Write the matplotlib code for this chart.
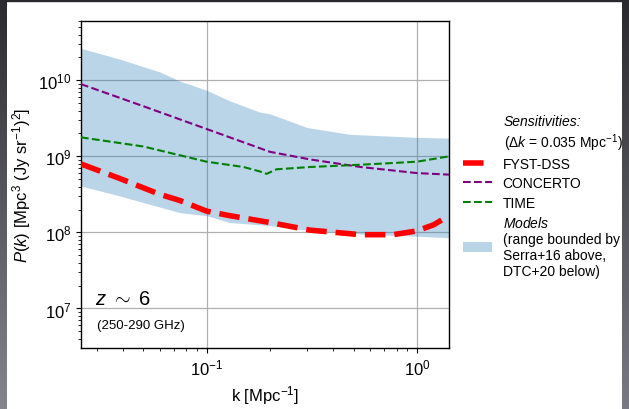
import numpy as np
import matplotlib
matplotlib.use("Agg")
import matplotlib.pyplot as plt
from matplotlib.lines import Line2D
from matplotlib.patches import Patch, Rectangle

plt.rcParams['font.family'] = ['Liberation Sans', 'DejaVu Sans']
plt.rcParams['mathtext.fontset'] = 'custom'
plt.rcParams['mathtext.rm'] = 'Liberation Sans'
plt.rcParams['mathtext.it'] = 'Liberation Sans:italic'
plt.rcParams['mathtext.bf'] = 'Liberation Sans:bold'

# ---- data (log10 of P(k)) ----
k_fyst = [0.0253, 0.0386, 0.06, 0.0746, 0.1, 0.129, 0.2, 0.31, 0.54, 0.77, 1.0, 1.2, 1.42]
logP_fyst = [8.90, 8.71, 8.50, 8.42, 8.28, 8.22, 8.13, 8.03, 7.97, 7.97, 8.02, 8.10, 8.22]

k_concerto = [0.0253, 0.05, 0.1, 0.2, 0.31, 0.54, 1.0, 1.42]
logP_concerto = [9.95, 9.66, 9.36, 9.06, 8.96, 8.86, 8.78, 8.76]

k_time = [0.0253, 0.05, 0.1, 0.15, 0.18, 0.193, 0.215, 0.31, 0.54, 1.0, 1.42]
logP_time = [9.25, 9.13, 8.93, 8.86, 8.80, 8.77, 8.83, 8.86, 8.89, 8.93, 9.00]

k_band_hi = [0.0253, 0.0386, 0.06, 0.0746, 0.1, 0.129, 0.18, 0.2, 0.3, 0.48, 1.0, 1.42]
logP_band_hi = [10.42, 10.28, 10.11, 9.99, 9.87, 9.73, 9.58, 9.56, 9.38, 9.29, 9.25, 9.24]

k_band_lo = [0.0253, 0.0386, 0.0746, 0.1, 0.129, 0.2, 0.3, 0.537, 1.0, 1.42]
logP_band_lo = [8.61, 8.48, 8.26, 8.22, 8.13, 8.09, 8.03, 7.98, 7.95, 7.93]

legend_labels = ['FYST-DSS', 'CONCERTO', 'TIME',
                 '$\\it{Models}$\n(range bounded by\nSerra+16 above,\nDTC+20 below)']

W, H = 629, 410
fig = plt.figure(figsize=(W/100, H/100), dpi=100)
fig.patch.set_facecolor('white')

# dark screenshot frame
def strip(x0, y0, w, h, top_col, bot_col):
    a = fig.add_axes([x0/W, y0/H, w/W, h/H], zorder=-10)
    grad = np.linspace(0, 1, 256)[:, None]
    c0 = np.array(matplotlib.colors.to_rgb(top_col))
    c1 = np.array(matplotlib.colors.to_rgb(bot_col))
    img = c0[None, None, :] * (1 - grad[:, :, None]) + c1[None, None, :] * grad[:, :, None]
    a.imshow(img, aspect='auto', extent=[0, 1, 0, 1])
    a.set_axis_off()

strip(0, 0, 7, H, '#2a2a2e', '#85858f')
strip(W - 7, 0, 7, H, '#2a2a2e', '#7a7a84')
fig.patches.append(Rectangle((0, (H - 2)/H), 1, 2/H, transform=fig.transFigure,
                             color='#2a2a2e', zorder=-5))

ax = fig.add_axes([81/W, 1 - 349/H, (449 - 81)/W, (349 - 22)/H])

kb = np.geomspace(0.0253, 1.42, 400)
hi = 10 ** np.interp(np.log10(kb), np.log10(k_band_hi), logP_band_hi)
lo = 10 ** np.interp(np.log10(kb), np.log10(k_band_lo), logP_band_lo)
ax.fill_between(kb, lo, hi, color='C0', alpha=0.3, lw=0, zorder=1)

ax.plot(k_fyst, 10 ** np.array(logP_fyst), color='red', ls='--', lw=4, zorder=3)
ax.plot(k_concerto, 10 ** np.array(logP_concerto), color='purple', ls='--', lw=1.5, zorder=3)
ax.plot(k_time, 10 ** np.array(logP_time), color='green', ls='--', lw=1.5, zorder=3)

ax.set_xscale('log')
ax.set_yscale('log')
ax.set_xlim(0.0253, 1.42)
ax.set_ylim(10 ** 6.48, 10 ** 10.78)
ax.grid(True, which='major', color='#b0b0b0', lw=0.9)
ax.set_axisbelow(True)
ax.tick_params(labelsize=12)
for s in ax.spines.values():
    s.set_linewidth(1.0)

ax.set_xlabel('k [Mpc$^{-1}$]', fontsize=12)
ax.set_ylabel('$P(k)$ [Mpc$^3$ (Jy sr$^{-1}$)$^2$]', fontsize=12)

ax.text(0.037, 0.135, r'$z\ \sim\ 6$', transform=ax.transAxes, fontsize=14.5)
ax.text(0.043, 0.06, '(250-290 GHz)', transform=ax.transAxes, fontsize=9.5)

fig.text(504/W, 1 - 122/H, 'Sensitivities:', style='italic', fontsize=10, va='center')
fig.text(504/W, 1 - 143/H, r'($\Delta k$ = 0.035 Mpc$^{-1}$)', fontsize=10, va='center')

handles = [Line2D([], [], color='red', ls='--', lw=4),
           Line2D([], [], color='purple', ls='--', lw=1.5),
           Line2D([], [], color='green', ls='--', lw=1.5),
           Patch(facecolor='C0', alpha=0.3, edgecolor='none')]
leg = fig.legend(handles, legend_labels, loc='upper left', bbox_to_anchor=(463/W, 1 - 158/H),
                 frameon=False, fontsize=10, handlelength=2.1, labelspacing=0.38,
                 handletextpad=0.75, borderaxespad=0, borderpad=0)

fig.savefig('out.png', dpi=100)
